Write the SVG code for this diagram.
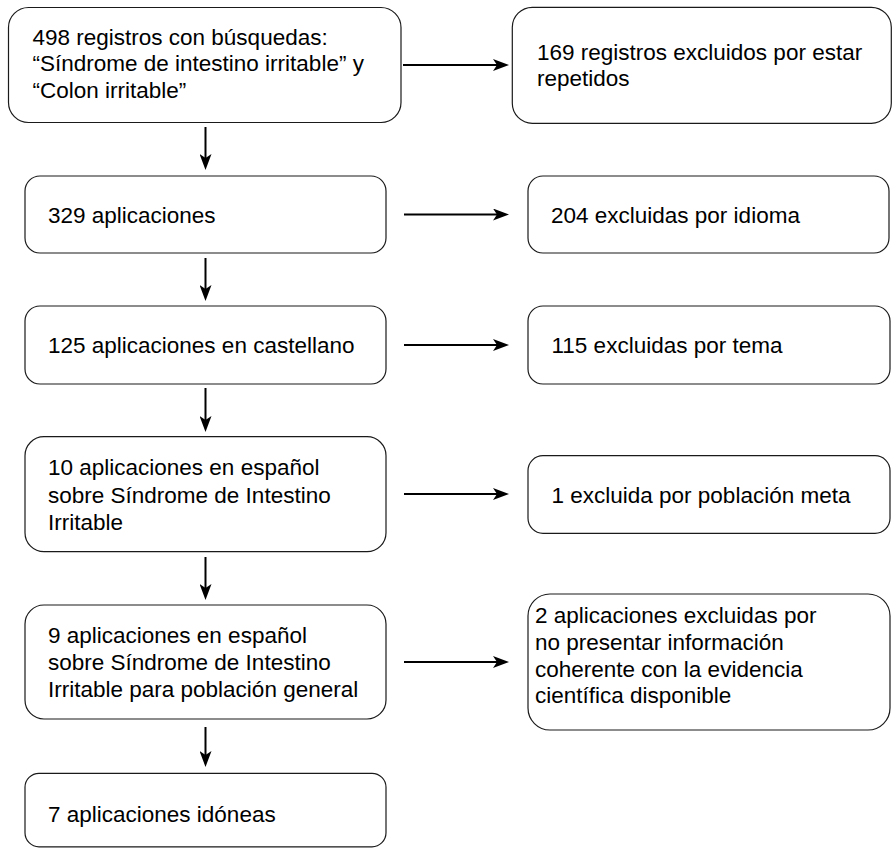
<svg xmlns="http://www.w3.org/2000/svg" width="892" height="848" viewBox="0 0 892 848">
<style>
.box{fill:#ffffff;stroke:#1a1a1a;stroke-width:1.2}
.t{font-family:"Liberation Sans",Arial,sans-serif;font-size:22.5px;fill:#000000}
.c{stroke:#000000;stroke-width:2;fill:none}
</style>
<defs>
<marker id="ah" markerUnits="userSpaceOnUse" viewBox="0 0 16 12" refX="4" refY="6" markerWidth="16" markerHeight="12" orient="auto">
<path d="M0,0 L16,6 L0,12 L4,6 Z" fill="#000000"/>
</marker>
</defs>
<rect width="892" height="848" fill="#ffffff"/>
<g id="connectors">
<line class="c" x1="403" y1="65" x2="497" y2="65" marker-end="url(#ah)"/>
<line class="c" x1="404" y1="214.5" x2="497" y2="214.5" marker-end="url(#ah)"/>
<line class="c" x1="404" y1="345" x2="497" y2="345" marker-end="url(#ah)"/>
<line class="c" x1="404" y1="494" x2="497" y2="494" marker-end="url(#ah)"/>
<line class="c" x1="404" y1="662" x2="497" y2="662" marker-end="url(#ah)"/>
<line class="c" x1="205.5" y1="127" x2="205.5" y2="158" marker-end="url(#ah)"/>
<line class="c" x1="205.5" y1="258" x2="205.5" y2="289" marker-end="url(#ah)"/>
<line class="c" x1="205.5" y1="388" x2="205.5" y2="420" marker-end="url(#ah)"/>
<line class="c" x1="205.5" y1="557" x2="205.5" y2="588" marker-end="url(#ah)"/>
<line class="c" x1="205.5" y1="727" x2="205.5" y2="755" marker-end="url(#ah)"/>
</g>
<g id="n1">
<rect class="box" x="8.5" y="7.5" width="392.5" height="115" rx="20"/>
<text class="t"><tspan x="32.5" y="44.5">498 registros con búsquedas:</tspan><tspan x="32.5" y="71">“Síndrome de intestino irritable” y</tspan><tspan x="32.5" y="97.5">“Colon irritable”</tspan></text>
</g>
<g id="n2">
<rect class="box" x="25" y="176" width="361" height="77" rx="15"/>
<text class="t" x="48" y="222.5">329 aplicaciones</text>
</g>
<g id="n3">
<rect class="box" x="25" y="306" width="361" height="78" rx="15"/>
<text class="t" x="48" y="353">125 aplicaciones en castellano</text>
</g>
<g id="n4">
<rect class="box" x="25" y="436.7" width="361" height="115" rx="19"/>
<text class="t"><tspan x="48" y="475">10 aplicaciones en español</tspan><tspan x="48" y="502.5">sobre Síndrome de Intestino</tspan><tspan x="48" y="530">Irritable</tspan></text>
</g>
<g id="n5">
<rect class="box" x="25" y="605" width="361" height="114" rx="19"/>
<text class="t"><tspan x="48" y="643">9 aplicaciones en español</tspan><tspan x="48" y="670">sobre Síndrome de Intestino</tspan><tspan x="48" y="697">Irritable para población general</tspan></text>
</g>
<g id="n6">
<rect class="box" x="25" y="773.3" width="361" height="73.5" rx="14"/>
<text class="t" x="48" y="821.5">7 aplicaciones idóneas</text>
</g>
<g id="r1">
<rect class="box" x="512.3" y="7.3" width="379" height="116" rx="20"/>
<text class="t"><tspan x="537" y="60">169 registros excluidos por estar</tspan><tspan x="537" y="86">repetidos</tspan></text>
</g>
<g id="r2">
<rect class="box" x="528" y="176" width="361" height="77" rx="15"/>
<text class="t" x="551" y="223">204 excluidas por idioma</text>
</g>
<g id="r3">
<rect class="box" x="528" y="306" width="362" height="78" rx="15"/>
<text class="t" x="551.5" y="353.3">115 excluidas por tema</text>
</g>
<g id="r4">
<rect class="box" x="528" y="455.7" width="362" height="77.6" rx="15"/>
<text class="t" x="551.5" y="503.3">1 excluida por población meta</text>
</g>
<g id="r5">
<rect class="box" x="528" y="594" width="362" height="136" rx="22"/>
<text class="t"><tspan x="535" y="623">2 aplicaciones excluidas por</tspan><tspan x="535" y="650">no presentar información</tspan><tspan x="535" y="676.7">coherente con la evidencia</tspan><tspan x="535" y="703">científica disponible</tspan></text>
</g>
</svg>
